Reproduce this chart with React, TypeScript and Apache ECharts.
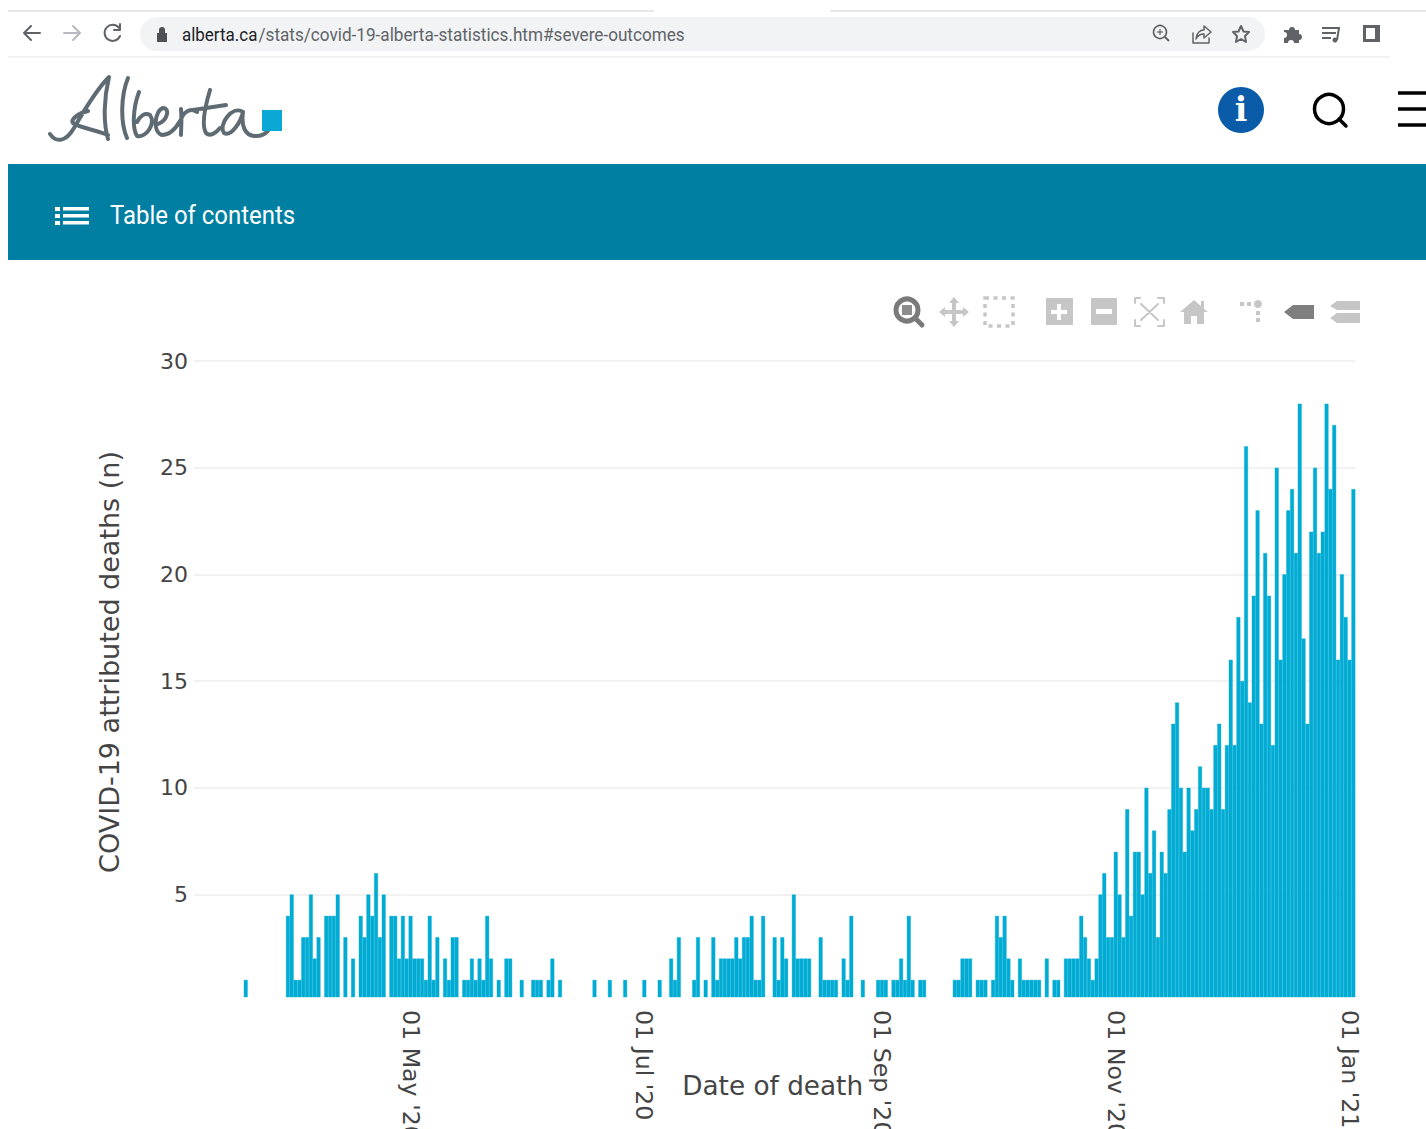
import React, { useEffect, useRef } from "react";
import * as echarts from "echarts";

const firstAxisDay = Date.UTC(2020, 2, 6);
const leadingEmptyDays = 13;
const xTickLabels = ["01 May '20", "01 Jul '20", "01 Sep '20", "01 Nov '20", "01 Jan '21"];
const yTicks = [5, 10, 15, 20, 25, 30];
const yAxisTitle = "COVID-19 attributed deaths (n)";
const xAxisTitle = "Date of death";
const urlHost = "alberta.ca";
const urlPath = "/stats/covid-19-alberta-statistics.htm#severe-outcomes";

// Daily counts, 19 Mar 2020 to 02 Jan 2021
const deathsSpring = [
  1, 0, 0, 0, 0, 0, 0, 0, 0, 0, 0, 4, 5, 1, 1, 3, 3, 5, 2, 3, 0, 4, 4, 4, 5, 0, 3, 0, 2, 0, 4, 3, 5, 4, 6, 3, 5, 0,
  4, 4, 2, 4, 2, 4, 2, 2, 2, 1, 4, 1, 3, 0, 2, 1, 3, 3, 0, 1, 1, 2, 1, 2, 1, 4, 2, 0, 1, 0, 2, 2, 0, 0, 1, 0, 0,
  1, 1, 1, 0, 1, 2, 0, 1,
];
const deathsSummer = [
  0, 0, 0, 0, 0, 0, 0, 0, 1, 0, 0, 0, 1, 0, 0, 0, 1, 0, 0, 0, 0, 1, 0, 0, 0, 1, 0, 0, 2, 1, 3, 0, 0, 0, 1, 3, 0, 1,
  0, 3, 1, 2, 2, 2, 2, 3, 2, 3, 3, 4, 1, 1, 4, 0, 0, 3, 1, 3, 2, 0, 5, 2, 2, 2, 2, 0, 0, 3, 1, 1, 1, 1, 0, 2, 1, 4,
  0, 0, 1, 0, 0, 0, 1, 1, 1, 0, 1, 1, 2, 1, 4, 1, 0, 1, 1,
];
const deathsAutumn = [
  0, 0, 0, 0, 0, 0, 0, 1, 1, 2, 2, 2, 0, 1, 1, 1, 0, 1, 4, 3, 4, 2, 1, 0, 2, 1, 1, 1, 1, 1, 0, 2, 0, 1, 1, 0, 2, 2,
  2, 2, 4, 3, 2, 1, 2, 5, 6, 3, 3, 7, 5, 3, 9, 4, 7, 7, 5, 10, 6, 8, 3, 7, 6, 9,
];
const deathsWinter = [
  13, 14, 10, 7, 10, 8, 9, 11, 10, 10, 9, 12, 13, 9, 12, 16, 12, 18, 15, 26, 14, 19, 23, 13, 21, 19, 12, 25, 16, 20,
  23, 24, 21, 28, 17, 13, 22, 25, 21, 22, 28, 24, 27, 16, 20, 18, 16, 24,
];
const deaths = [...deathsSpring, ...deathsSummer, ...deathsAutumn, ...deathsWinter];

const monthNames = ["Jan", "Feb", "Mar", "Apr", "May", "Jun", "Jul", "Aug", "Sep", "Oct", "Nov", "Dec"];
const categories: string[] = [];
for (let i = 0; i < leadingEmptyDays + deaths.length; i++) {
  const d = new Date(firstAxisDay + i * 86400000);
  const day = String(d.getUTCDate()).padStart(2, "0");
  categories.push(`${day} ${monthNames[d.getUTCMonth()]} '${String(d.getUTCFullYear()).slice(2)}`);
}
const barValues = [...new Array(leadingEmptyDays).fill(null), ...deaths.map((v) => (v > 0 ? v : null))];

const reg = (name: string, d: string) => echarts.graphic.registerShape(name, echarts.graphic.extendPath(d, {}));
reg(
  "albertaLogo",
  "M50 134 C56 143 66 142 74 128 C86 107 100 86 109 77 C104 98 103 122 108 139 M88 111 C78 113 70 120 73 123 C80 128 96 130 108 135 " +
    "M128 78 C121 95 120 122 127 138 M139 92 C133 108 132 128 137 136 C146 138 156 124 150 115 C145 112 140 116 137 122 " +
    "M158 124 C168 120 170 108 163 108 C155 110 152 132 162 135 C170 135 176 128 180 121 " +
    "M181 109 C182 118 181 128 181 135 M181 119 C185 110 192 108 197 112 " +
    "M210 90 C204 110 202 126 206 133 C210 137 216 133 220 128 M193 110 L226 105 " +
    "M243 112 C232 105 218 125 224 133 C231 137 241 122 243 112 C241 126 245 135 254 136 C264 137 272 131 275 113"
);
reg("navBack", "M40 33 L24 33 M31 26 L24 33 L31 40");
reg("navForward", "M64 33 L80 33 M73 26 L80 33 L73 40");
reg("navReload", "M119 28 A8 8 0 1 0 120 36 M120 24 L120 30 L114 30");
reg("lockIcon", "M157 33 L167 33 L167 42 L157 42 Z M159 33 L159 30 A3 3 0 0 1 165 30 L165 33");
reg("shareIcon", "M1193 33 L1193 43 L1209 43 L1209 38 M1196 39 C1197 32 1201 30 1204 30 L1204 26 L1211 32 L1204 38 L1204 34 C1201 34 1198 35 1196 39");
reg("starIcon", "M1241 26 L1243.5 31.5 L1249 32 L1245 36 L1246 42 L1241 39 L1236 42 L1237 36 L1233 32 L1238.5 31.5 Z");
reg("puzzleIcon", "M1284 30 L1289 30 A3 3 0 0 1 1295 30 L1299 30 L1299 34 A3 3 0 0 1 1299 40 L1299 43 L1294 43 A3 3 0 0 0 1288 43 L1284 43 L1284 38 A3 3 0 0 0 1284 32 Z");
reg("homeIcon", "M1180 312 L1194 300 L1201 306 L1201 301 L1204 301 L1204 309 L1208 312 L1204 312 L1204 324 L1197 324 L1197 316 L1191 316 L1191 324 L1184 324 L1184 312 Z");
reg("tagIcon", "M1284 312 L1293 305 L1314 305 L1314 319 L1293 319 Z");
reg("compareIcon", "M1330 306 L1337 301 L1360 301 L1360 310 L1337 310 Z M1330 318 L1337 313 L1360 313 L1360 323 L1337 323 Z");
reg("moveIcon", "M954 297 L959 303 L956 303 L956 310 L963 310 L963 307 L969 312 L963 317 L963 314 L956 314 L956 321 L959 321 L954 327 L949 321 L952 321 L952 314 L945 314 L945 317 L939 312 L945 307 L945 310 L952 310 L952 303 L949 303 Z");
reg("plusBox", "M1046 298 L1073 298 L1073 325 L1046 325 Z M1057 304 L1057 310 L1051 310 L1051 314 L1057 314 L1057 320 L1061 320 L1061 314 L1067 314 L1067 310 L1061 310 L1061 304 Z");
reg("minusBox", "M1091 298 L1117 298 L1117 325 L1091 325 Z M1096 309 L1096 314 L1112 314 L1112 309 Z");
reg("autoscale", "M1140 298 L1135 298 L1135 303 M1158 298 L1164 298 L1164 303 M1135 320 L1135 326 L1140 326 M1164 320 L1164 326 L1158 326 M1141 304 L1158 320 M1158 304 L1141 320");

const line = (x1: number, y1: number, x2: number, y2: number, stroke: string, lineWidth = 1, extra = {}) => ({
  type: "line",
  shape: { x1, y1, x2, y2 },
  style: { stroke, lineWidth, ...extra },
  silent: true,
});
const rect = (x: number, y: number, width: number, height: number, fill: string, r = 0) => ({
  type: "rect",
  shape: { x, y, width, height, r },
  style: { fill },
  silent: true,
});
const strokePath = (type: string, stroke: string, lineWidth: number) => ({
  type,
  style: { fill: "none", stroke, lineWidth, lineCap: "round", lineJoin: "round" },
  silent: true,
});
const fillPath = (type: string, fill: string) => ({ type, style: { fill }, silent: true });
const label = (text: string, x: number, y: number, fill: string, fontSize: number, fontFamily: string, scaleX = 1, extra = {}) => ({
  type: "text",
  x,
  y,
  scaleX,
  style: { text, fill, fontSize, fontFamily, textVerticalAlign: "middle", ...extra },
  silent: true,
});

const iconGray = "#5f6368";
const modeGray = "#c6c6c6";
const pageGraphics: any[] = [
  line(8, 11, 654, 11, "#dee1e6", 1.5),
  line(830, 11, 1426, 11, "#dee1e6", 1.5),
  line(8, 57, 1390, 57, "#eceef0", 1.5),
  rect(140, 17, 1125, 34, "#f1f3f4", 17),
  strokePath("navBack", iconGray, 2),
  strokePath("navForward", "#b6b9bd", 2),
  strokePath("navReload", iconGray, 2),
  fillPath("lockIcon", "#4d5156"),
  label(urlHost, 182, 34.5, "#202124", 17.5, "Roboto", 0.97),
  label(urlPath, 258.5, 34.5, "#5f6368", 17.5, "Roboto", 0.98),
  { type: "circle", shape: { cx: 1160, cy: 32, r: 6.5 }, style: { fill: "none", stroke: iconGray, lineWidth: 1.6 }, silent: true },
  line(1165, 37, 1169, 41, iconGray, 2),
  line(1157, 32, 1163, 32, iconGray, 1.2),
  line(1160, 29, 1160, 35, iconGray, 1.2),
  strokePath("shareIcon", iconGray, 1.5),
  strokePath("starIcon", iconGray, 2),
  fillPath("puzzleIcon", iconGray),
  line(1322, 28, 1340, 28, iconGray, 2),
  line(1322, 33, 1336, 33, iconGray, 2),
  line(1322, 38, 1331, 38, iconGray, 2),
  line(1339, 28, 1337, 40, iconGray, 2),
  { type: "circle", shape: { cx: 1335, cy: 40, r: 2.5 }, style: { fill: iconGray }, silent: true },
  rect(1363, 25, 17, 17, iconGray),
  rect(1366, 28, 9, 11, "#ffffff"),

  strokePath("albertaLogo", "#5f6b73", 4),
  rect(262, 110, 20, 21, "#0aa9d3"),

  { type: "circle", shape: { cx: 1241, cy: 110, r: 23 }, style: { fill: "#0b5ca8" }, silent: true },
  label("i", 1241, 109, "#ffffff", 33, "DejaVu Serif", 1, { fontWeight: "bold", textAlign: "center" }),
  { type: "circle", shape: { cx: 1329, cy: 109, r: 14.5 }, style: { fill: "none", stroke: "#000000", lineWidth: 3.5 }, silent: true },
  line(1339, 119, 1346, 126, "#000000", 3.5, { lineCap: "round" }),
  line(1398, 93, 1426, 93, "#000000", 3.5),
  line(1398, 109, 1426, 109, "#000000", 3.5),
  line(1398, 125, 1426, 125, "#000000", 3.5),

  rect(8, 164, 1418, 96, "#007fa3"),
  rect(55, 207, 5, 4, "#ffffff"),
  rect(55, 214, 5, 4, "#ffffff"),
  rect(55, 221, 5, 4, "#ffffff"),
  rect(63, 207, 26, 3.5, "#ffffff"),
  rect(63, 214, 26, 3.5, "#ffffff"),
  rect(63, 221, 26, 3.5, "#ffffff"),
  label("Table of contents", 110, 215.5, "#ffffff", 25, "Roboto", 0.958),

  { type: "circle", shape: { cx: 907, cy: 310, r: 11 }, style: { fill: "none", stroke: "#7a7a7a", lineWidth: 5 }, silent: true },
  rect(902, 305, 10, 10, "#8c8c8c"),
  line(915, 318, 922, 325, "#7a7a7a", 5, { lineCap: "round" }),
  fillPath("moveIcon", modeGray),
  { type: "rect", shape: { x: 985, y: 298, width: 28, height: 28 }, style: { fill: "none", stroke: modeGray, lineWidth: 3.5, lineDash: [4, 4.5] }, silent: true },
  fillPath("plusBox", modeGray),
  fillPath("minusBox", modeGray),
  strokePath("autoscale", modeGray, 2),
  fillPath("homeIcon", modeGray),
  { type: "circle", shape: { cx: 1258, cy: 304, r: 4 }, style: { fill: modeGray }, silent: true },
  rect(1240, 302, 4, 4, modeGray),
  rect(1247, 302, 4, 4, modeGray),
  rect(1256, 311, 4, 4, modeGray),
  rect(1256, 318, 4, 4, modeGray),
  fillPath("tagIcon", "#7f7f7f"),
  fillPath("compareIcon", modeGray),
];

export default function App() {
  const ref = useRef<HTMLDivElement>(null);
  useEffect(() => {
    const chart = echarts.init(ref.current!, undefined, { renderer: "svg" });
    chart.setOption({
      animation: false,
      backgroundColor: "#ffffff",
      grid: { left: 194, top: 361, width: 1161.3, height: 636, containLabel: false, outerBoundsMode: "none" },
      xAxis: {
        type: "category",
        data: categories,
        name: xAxisTitle,
        nameLocation: "center",
        nameGap: 76,
        nameTextStyle: { fontFamily: "DejaVu Sans", fontSize: 26.3, color: "#444444", padding: [0, 4, 0, 0] },
        nameMoveOverlap: false,
        axisLine: { show: false },
        axisTick: { show: false },
        splitLine: { show: false },
        axisLabel: {
          rotate: -90,
          margin: 13,
          fontFamily: "DejaVu Sans",
          fontSize: 23.7,
          color: "#444444",
          interval: (_i: number, v: string) => xTickLabels.includes(v),
        },
      },
      yAxis: {
        type: "value",
        min: 0.2,
        max: 30,
        name: yAxisTitle,
        nameLocation: "center",
        nameGap: 71,
        nameTextStyle: { fontFamily: "DejaVu Sans", fontSize: 27, color: "#444444", padding: [0, 0, 0, 34] },
        axisLine: { show: false },
        axisTick: { show: false, customValues: yTicks },
        axisLabel: { customValues: yTicks, margin: 6, fontFamily: "DejaVu Sans", fontSize: 22, color: "#444444" },
        splitLine: { show: true, lineStyle: { color: "#eeeeee", width: 1.5 } },
      },
      series: [
        {
          type: "bar",
          data: barValues,
          barWidth: "100%",
          itemStyle: { color: "#00acd4", borderColor: "#00acd4", borderWidth: 0.4 },
        },
      ],
      graphic: { elements: pageGraphics },
    });
    return () => chart.dispose();
  }, []);
  return <div ref={ref} style={{ position: "fixed", left: 0, top: 0, width: 1426, height: 1129 }} />;
}
